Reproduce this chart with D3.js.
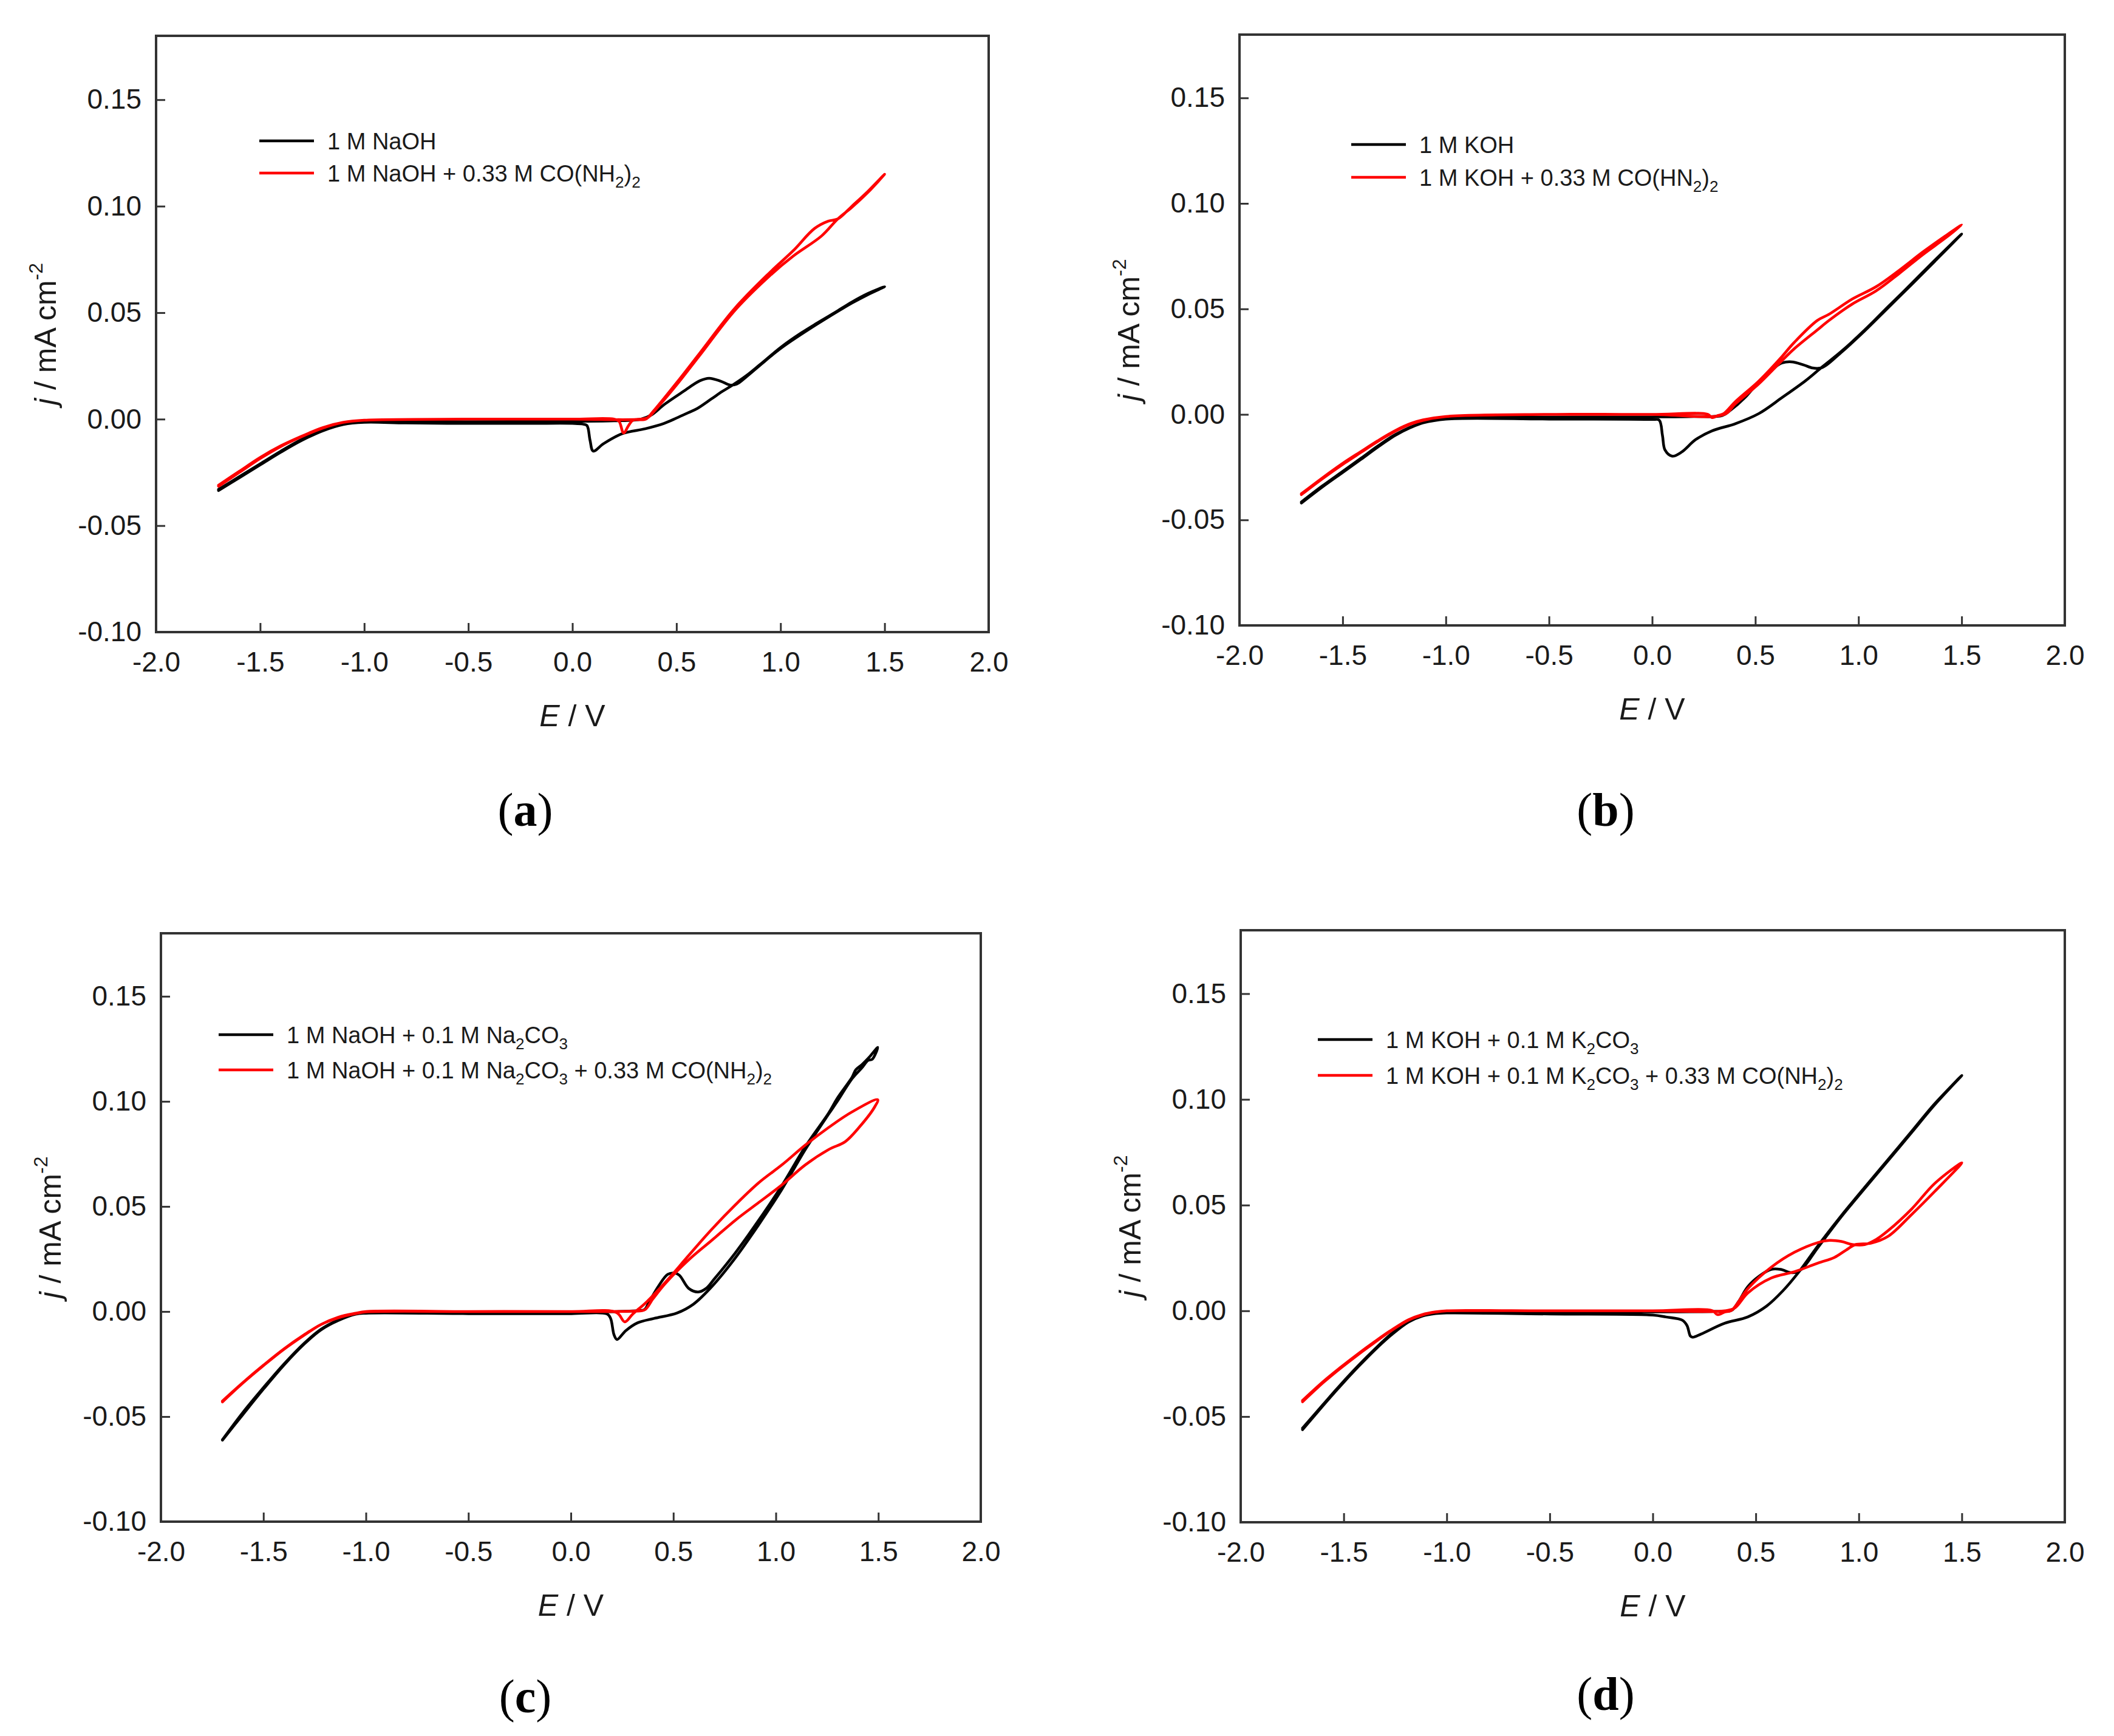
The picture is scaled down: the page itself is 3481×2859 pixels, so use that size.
<!DOCTYPE html>
<html>
<head>
<meta charset="utf-8">
<script src="https://cdn.jsdelivr.net/npm/d3@7"></script>
<style>
  body { margin: 0; background: #fff; }
  svg { display: block; }
</style>
</head>
<body>
<div id="chart"></div>
<script>
// shared axes
const xTicks = [-2.0, -1.5, -1.0, -0.5, 0.0, 0.5, 1.0, 1.5, 2.0];
const yTicks = [-0.10, -0.05, 0.00, 0.05, 0.10, 0.15];
const xDomain = [-2, 2];
const yDomain = [-0.10, 0.18];

// (a) 1 M NaOH, [E (V), j (mA cm-2)] along the scan
const aBlack = [[-1.70,-0.0335],[-1.60,-0.0275],[-1.50,-0.0215],[-1.40,-0.0155],[-1.30,-0.0100],[-1.20,-0.0055],[-1.10,-0.0025],[-1.00,-0.0015],[-0.80,-0.0018],[-0.50,-0.0020],[-0.20,-0.0020],[0.00,-0.0020],[0.05,-0.0023],[0.07,-0.0030],[0.085,-0.0100],[0.10,-0.0150],[0.15,-0.0115],[0.24,-0.0068],[0.35,-0.0045],[0.44,-0.0020],[0.50,0.0005],[0.556,0.0030],[0.60,0.0050],[0.668,0.0095],[0.72,0.0130],[0.77,0.0160],[0.837,0.0205],[0.90,0.0255],[1.005,0.0340],[1.10,0.0405],[1.174,0.0450],[1.26,0.0500],[1.343,0.0550],[1.42,0.0590],[1.50,0.0622],
  [1.42,0.0585],[1.343,0.0545],[1.174,0.0445],[1.005,0.0335],[0.90,0.0252],[0.837,0.0200],[0.79,0.0165],[0.758,0.0160],[0.713,0.0178],[0.657,0.0192],[0.612,0.0180],[0.533,0.0130],[0.443,0.0070],[0.38,0.0020],[0.33,0.0000],[0.20,-0.0008],[0.00,-0.0010],[-0.50,-0.0012],[-0.90,-0.0010],[-1.00,-0.0012],[-1.10,-0.0020],[-1.20,-0.0050],[-1.30,-0.0095],[-1.40,-0.0150],[-1.50,-0.0210],[-1.60,-0.0270],[-1.70,-0.0330]];
const aRed = [[-1.70,-0.0310],[-1.60,-0.0245],[-1.50,-0.0180],[-1.40,-0.0125],[-1.30,-0.0080],[-1.20,-0.0040],[-1.10,-0.0015],[-1.00,-0.0005],[-0.50,0.0000],[0.00,0.0000],[0.20,0.0000],[0.224,-0.0010],[0.246,-0.0065],[0.27,-0.0030],[0.291,-0.0005],[0.353,0.0000],[0.387,0.0035],[0.50,0.0170],[0.612,0.0310],[0.78,0.0520],[0.95,0.0690],[1.06,0.0790],[1.163,0.0895],[1.23,0.0930],[1.275,0.0940],[1.343,0.1000],[1.42,0.1070],[1.50,0.1150],
  [1.42,0.1065],[1.343,0.0995],[1.275,0.0940],[1.197,0.0860],[1.06,0.0765],[0.95,0.0675],[0.78,0.0510],[0.612,0.0300],[0.50,0.0160],[0.40,0.0045],[0.364,0.0008],[0.33,0.0000],[0.00,0.0000],[-0.50,0.0000],[-1.00,-0.0005],[-1.10,-0.0015],[-1.20,-0.0042],[-1.30,-0.0082],[-1.40,-0.0128],[-1.50,-0.0185],[-1.60,-0.0250],[-1.70,-0.0315]];
const aLabels = ['1 M NaOH', '1 M NaOH + 0.33 M CO(NH_2)_2'];

// (b) 1 M KOH
const bBlack = [[-1.70,-0.0420],[-1.60,-0.0345],[-1.50,-0.0275],[-1.41,-0.0212],[-1.33,-0.0155],[-1.244,-0.0099],[-1.17,-0.0062],[-1.11,-0.0040],[-1.00,-0.0022],[-0.50,-0.0022],[0.00,-0.0024],[0.034,-0.0027],[0.05,-0.0100],[0.0625,-0.0169],[0.097,-0.0198],[0.142,-0.0179],[0.21,-0.0120],[0.29,-0.0078],[0.403,-0.0044],[0.517,0.0004],[0.63,0.0080],[0.744,0.0160],[0.824,0.0225],[0.915,0.0297],[1.028,0.0398],[1.142,0.0509],[1.256,0.0619],[1.369,0.0730],[1.50,0.0855],
  [1.369,0.0725],[1.256,0.0614],[1.142,0.0504],[1.028,0.0394],[0.915,0.0293],[0.824,0.0222],[0.778,0.0220],[0.733,0.0235],[0.676,0.0249],[0.63,0.0244],[0.597,0.0225],[0.517,0.0155],[0.45,0.0080],[0.38,0.0020],[0.34,-0.0005],[0.20,-0.0010],[0.00,-0.0012],[-0.50,-0.0013],[-1.00,-0.0018],[-1.11,-0.0038],[-1.244,-0.0095],[-1.33,-0.0150],[-1.41,-0.0207],[-1.50,-0.0270],[-1.60,-0.0340],[-1.70,-0.0415]];
const bRed = [[-1.70,-0.0376],[-1.60,-0.0302],[-1.50,-0.0232],[-1.41,-0.0175],[-1.33,-0.0125],[-1.244,-0.0076],[-1.17,-0.0043],[-1.11,-0.0026],[-1.00,-0.0010],[-0.50,0.0000],[0.00,0.0000],[0.27,0.0000],[0.29,-0.0015],[0.32,-0.0005],[0.347,0.0004],[0.403,0.0060],[0.517,0.0158],[0.619,0.0263],[0.6875,0.0340],[0.80,0.0445],[0.858,0.0475],[0.97,0.0547],[1.085,0.0605],[1.20,0.0685],[1.3125,0.0770],[1.42,0.0845],[1.50,0.0898],
  [1.42,0.0835],[1.3125,0.0758],[1.20,0.0670],[1.085,0.0585],[0.97,0.0523],[0.858,0.0446],[0.80,0.0400],[0.6875,0.0310],[0.619,0.0245],[0.517,0.0145],[0.403,0.0050],[0.35,0.0000],[0.00,0.0000],[-0.50,0.0000],[-1.00,-0.0010],[-1.11,-0.0028],[-1.17,-0.0046],[-1.244,-0.0079],[-1.33,-0.0128],[-1.41,-0.0179],[-1.50,-0.0237],[-1.60,-0.0306],[-1.70,-0.0380]];
const bLabels = ['1 M KOH', '1 M KOH + 0.33 M CO(HN_2)_2'];

// (c) 1 M NaOH + 0.1 M Na2CO3
const cBlack = [[-1.70,-0.0612],[-1.60,-0.0490],[-1.498,-0.0367],[-1.40,-0.0255],[-1.30,-0.0154],[-1.22,-0.0088],[-1.135,-0.0043],[-1.05,-0.0013],[-1.00,-0.0008],[-0.50,-0.0010],[0.00,-0.0010],[0.177,-0.0012],[0.194,-0.0033],[0.211,-0.0112],[0.225,-0.0133],[0.268,-0.0091],[0.325,-0.0054],[0.405,-0.0033],[0.518,-0.0007],[0.598,0.0035],[0.689,0.0120],[0.803,0.0256],[0.917,0.0414],[1.03,0.0582],[1.144,0.0771],[1.258,0.0940],[1.30,0.1000],[1.372,0.1108],[1.42,0.1160],[1.45,0.1195],[1.47,0.1200],[1.497,0.1257],
  [1.46,0.1215],[1.42,0.1175],[1.39,0.1150],[1.372,0.1115],[1.30,0.1015],[1.258,0.0945],[1.144,0.0785],[1.03,0.0600],[0.917,0.0435],[0.803,0.0280],[0.70,0.0155],[0.66,0.0110],[0.621,0.0093],[0.575,0.0110],[0.53,0.0172],[0.507,0.0183],[0.473,0.0177],[0.427,0.0120],[0.382,0.0046],[0.359,0.0009],[0.325,0.0004],[0.00,-0.0004],[-0.50,-0.0005],[-1.00,-0.0005],[-1.05,-0.0010],[-1.135,-0.0040],[-1.22,-0.0085],[-1.30,-0.0150],[-1.40,-0.0250],[-1.498,-0.0360],[-1.60,-0.0480],[-1.70,-0.0610]];
const cRed = [[-1.70,-0.0426],[-1.60,-0.0338],[-1.498,-0.0254],[-1.40,-0.0178],[-1.30,-0.0110],[-1.22,-0.0062],[-1.135,-0.0027],[-1.05,-0.0008],[-1.00,0.0000],[-0.50,0.0000],[0.00,0.0000],[0.223,-0.0005],[0.263,-0.0049],[0.302,-0.0012],[0.37,0.0046],[0.462,0.0140],[0.575,0.0267],[0.689,0.0393],[0.803,0.0508],[0.917,0.0613],[1.03,0.0698],[1.144,0.0792],[1.258,0.0876],[1.372,0.0950],[1.497,0.1008],
  [1.48,0.0970],[1.406,0.0876],[1.338,0.0808],[1.258,0.0771],[1.144,0.0698],[1.03,0.0603],[0.917,0.0519],[0.803,0.0435],[0.689,0.0340],[0.575,0.0246],[0.462,0.0135],[0.40,0.0060],[0.36,0.0008],[0.30,0.0002],[0.00,0.0000],[-0.50,0.0000],[-1.00,-0.0002],[-1.05,-0.0010],[-1.135,-0.0030],[-1.22,-0.0062],[-1.30,-0.0112],[-1.40,-0.0180],[-1.498,-0.0256],[-1.60,-0.0340],[-1.70,-0.0430]];
const cLabels = ['1 M NaOH + 0.1 M Na_2CO_3', '1 M NaOH + 0.1 M Na_2CO_3 + 0.33 M CO(NH_2)_2'];

// (d) 1 M KOH + 0.1 M K2CO3
const dBlack = [[-1.70,-0.0562],[-1.60,-0.0448],[-1.516,-0.0355],[-1.43,-0.0265],[-1.35,-0.0186],[-1.27,-0.0115],[-1.186,-0.0053],[-1.12,-0.0025],[-1.054,-0.0013],[-1.00,-0.0010],[-0.50,-0.0015],[0.00,-0.0020],[0.064,-0.0029],[0.143,-0.0044],[0.166,-0.0069],[0.183,-0.0120],[0.194,-0.0125],[0.234,-0.0110],[0.348,-0.0059],[0.461,-0.0029],[0.552,0.0022],[0.631,0.0094],[0.71,0.0185],[0.802,0.0308],[0.915,0.0450],[1.028,0.0583],[1.142,0.0715],[1.256,0.0848],[1.369,0.0980],[1.50,0.1113],
  [1.369,0.0975],[1.256,0.0843],[1.142,0.0710],[1.028,0.0578],[0.915,0.0445],[0.802,0.0300],[0.72,0.0195],[0.677,0.0180],[0.62,0.0196],[0.575,0.0196],[0.518,0.0165],[0.461,0.0114],[0.416,0.0043],[0.382,0.0002],[0.30,-0.0003],[0.00,-0.0005],[-0.50,-0.0005],[-1.00,-0.0008],[-1.054,-0.0012],[-1.12,-0.0023],[-1.186,-0.0050],[-1.27,-0.0110],[-1.35,-0.0182],[-1.43,-0.0260],[-1.516,-0.0350],[-1.60,-0.0443],[-1.70,-0.0555]];
const dRed = [[-1.70,-0.0424],[-1.60,-0.0335],[-1.516,-0.0268],[-1.43,-0.0203],[-1.35,-0.0146],[-1.27,-0.0092],[-1.186,-0.0042],[-1.12,-0.0018],[-1.054,-0.0005],[-1.00,0.0000],[-0.50,0.0000],[0.00,0.0000],[0.291,0.0000],[0.314,-0.0018],[0.35,-0.0005],[0.382,0.0002],[0.461,0.0104],[0.575,0.0206],[0.688,0.0277],[0.802,0.0323],[0.858,0.0333],[0.915,0.0328],[0.972,0.0313],[1.028,0.0313],[1.085,0.0338],[1.142,0.0379],[1.256,0.0481],[1.369,0.0603],[1.50,0.0700],
  [1.369,0.0565],[1.256,0.0455],[1.142,0.0352],[1.06,0.0320],[0.983,0.0313],[0.938,0.0287],[0.881,0.0252],[0.802,0.0226],[0.688,0.0185],[0.575,0.0155],[0.461,0.0084],[0.40,0.0015],[0.35,0.0000],[0.00,0.0000],[-0.50,0.0000],[-1.00,0.0000],[-1.054,-0.0006],[-1.12,-0.0020],[-1.186,-0.0044],[-1.27,-0.0094],[-1.35,-0.0150],[-1.43,-0.0207],[-1.516,-0.0272],[-1.60,-0.0340],[-1.70,-0.0430]];
const dLabels = ['1 M KOH + 0.1 M K_2CO_3', '1 M KOH + 0.1 M K_2CO_3 + 0.33 M CO(NH_2)_2'];

const captions = ['a', 'b', 'c', 'd'];
const colors = ['#000000', '#ff0000'];

const width = 3481, height = 2859;
const sans = '"Liberation Sans", Arial, sans-serif';
const ink = '#1a1a1a';

const svg = d3.select('#chart').append('svg')
    .attr('width', width)
    .attr('height', height);

svg.append('rect').attr('width', width).attr('height', height).attr('fill', '#fff');

// box = [left, top, right, bottom], legend = [line x offset, first row y offset, row gap]
const panels = [
  {box: [257, 59, 1628, 1041], legend: [170, 173, 53], cap: [865, 1360], series: [aBlack, aRed], labels: aLabels},
  {box: [2041, 57, 3400, 1030], legend: [184, 181, 54], cap: [2644, 1360], series: [bBlack, bRed], labels: bLabels},
  {box: [265, 1537, 1615, 2506], legend: [95, 167, 58], cap: [865, 2820], series: [cBlack, cRed], labels: cLabels},
  {box: [2043, 1532, 3400, 2507], legend: [127, 180, 59], cap: [2644, 2816], series: [dBlack, dRed], labels: dLabels}
];

// write "X_2" style labels with subscripts
function addLabel(text, str) {
  const parts = str.split(/_(.)/);
  let low = false;
  parts.forEach((p, i) => {
    if (!p) return;
    const sub = i % 2 === 1;
    const t = text.append('tspan').text(p);
    if (sub && !low) { t.attr('dy', 10); low = true; }
    if (!sub && low) { t.attr('dy', -10); low = false; }
    if (sub) t.attr('font-size', 26);
  });
}

panels.forEach((p, k) => {
  const [left, top, right, bottom] = p.box;
  const w = right - left, h = bottom - top;

  const x = d3.scaleLinear().domain(xDomain).range([0, w]);
  const y = d3.scaleLinear().domain(yDomain).range([h, 0]);

  const g = svg.append('g').attr('transform', `translate(${left},${top})`);

  const gx = g.append('g')
      .attr('transform', `translate(0,${h})`)
      .call(d3.axisBottom(x).tickValues(xTicks).tickSize(-15).tickSizeOuter(0)
        .tickPadding(32).tickFormat(d => d.toFixed(1)));
  const gy = g.append('g')
      .call(d3.axisLeft(y).tickValues(yTicks).tickSize(-15).tickSizeOuter(0)
        .tickPadding(24).tickFormat(d => d.toFixed(2)));

  [gx, gy].forEach(a => {
    a.select('.domain').remove();
    a.attr('font-size', 46).attr('font-family', sans).attr('color', '#333');
    a.selectAll('.tick line').attr('stroke-width', 3);
    a.selectAll('.tick text').attr('fill', ink);
  });

  g.append('rect')
      .attr('width', w).attr('height', h)
      .attr('fill', 'none')
      .attr('stroke', '#333')
      .attr('stroke-width', 4);

  const line = d3.line()
      .x(d => x(d[0]))
      .y(d => y(d[1]))
      .curve(d3.curveCatmullRom.alpha(0.5));

  g.selectAll('path.cv')
      .data(p.series)
      .enter()
      .append('path')
      .attr('class', 'cv')
      .attr('d', line)
      .attr('fill', 'none')
      .attr('stroke', (d, i) => colors[i])
      .attr('stroke-width', 4.5)
      .attr('stroke-linejoin', 'round')
      .attr('stroke-linecap', 'round');

  // legend
  const [lx, ly, gap] = p.legend;
  p.labels.forEach((lab, i) => {
    const yy = ly + i * gap;
    g.append('line')
        .attr('x1', lx).attr('x2', lx + 90)
        .attr('y1', yy).attr('y2', yy)
        .attr('stroke', colors[i])
        .attr('stroke-width', 4.5);
    const t = g.append('text')
        .attr('x', lx + 112)
        .attr('y', yy + 14)
        .attr('font-family', sans)
        .attr('font-size', 38)
        .attr('fill', ink);
    addLabel(t, lab);
  });

  // axis titles
  const xt = g.append('text')
      .attr('x', w / 2).attr('y', h + 155)
      .attr('text-anchor', 'middle')
      .attr('font-family', sans).attr('font-size', 50).attr('fill', ink);
  xt.append('tspan').attr('font-style', 'italic').text('E');
  xt.append('tspan').text(' / V');

  const yt = g.append('text')
      .attr('transform', `translate(-165,${h / 2}) rotate(-90)`)
      .attr('text-anchor', 'middle')
      .attr('font-family', sans).attr('font-size', 50).attr('fill', ink);
  yt.append('tspan').attr('font-style', 'italic').text('j');
  yt.append('tspan').text(' / mA cm');
  yt.append('tspan').attr('font-size', 32).attr('dy', -22).text('-2');

  // caption
  const cap = svg.append('text')
      .attr('x', p.cap[0]).attr('y', p.cap[1])
      .attr('text-anchor', 'middle')
      .attr('font-family', '"Liberation Serif", "Times New Roman", serif')
      .attr('font-size', 78).attr('fill', '#000');
  cap.append('tspan').text('(');
  cap.append('tspan').attr('font-weight', 'bold').text(captions[k]);
  cap.append('tspan').text(')');
});
</script>
</body>
</html>
